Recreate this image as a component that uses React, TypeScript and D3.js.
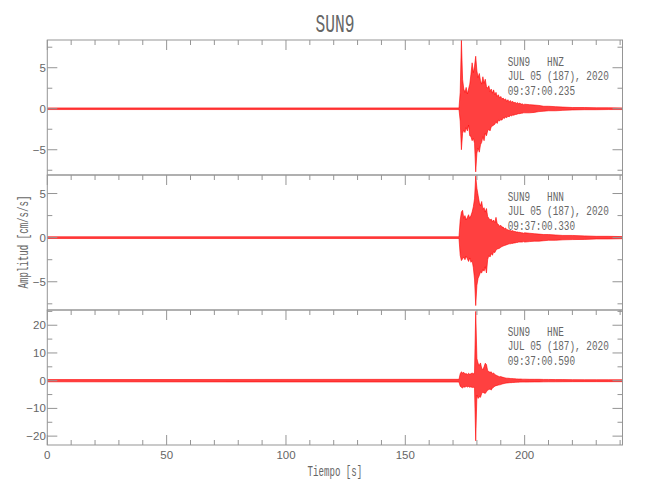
import React from "react";
import * as d3 from "d3";

// ---- data ----
const title = "SUN9";
const station = "SUN9";
const channels = ["HNZ", "HNN", "HNE"];
const dateLabel = "JUL 05 (187), 2020";
const startTimes = ["09:37:00.235", "09:37:00.330", "09:37:00.590"];
const xLabel = "Tiempo [s]";
const yLabel = "Amplitud [cm/s/s]";
const xMajorTicks = [0, 50, 100, 150, 200];
const xMinorStep = 10;
const timeMax = 241;

// envelope sample times (s)
const times = [0, 172.5, 173, 173.5, 174, 174.5, 175, 175.5, 176, 176.5, 177, 177.5, 178, 178.5, 179, 179.5, 180, 180.5, 181, 181.5, 182, 182.5, 183, 183.5, 184, 184.5, 185, 185.5, 186, 186.5, 187, 187.5, 188, 188.5, 189, 189.5, 190, 190.5, 191, 191.5, 192, 192.5, 193, 193.5, 194, 194.5, 195, 195.5, 196, 196.5, 197, 197.5, 198, 198.5, 199, 199.5, 200, 202, 204, 206, 208, 210, 213, 216, 220, 225, 230, 235, 241];

// HNZ envelope (cm/s/s)
const hnzUpper = [0.1, 0.1, 2.0, 8.4, 3.6, 2.4, 2.0, 2.6, 1.8, 2.4, 3.0, 4.2, 5.6, 4.4, 5.2, 6.4, 4.6, 3.8, 4.3, 3.4, 3.0, 3.9, 3.1, 3.6, 2.7, 2.5, 2.8, 2.1, 2.4, 1.9, 2.3, 1.7, 2.0, 1.5, 1.7, 1.3, 1.5, 1.2, 1.3, 1.1, 1.2, 0.9, 1.1, 0.8, 1.0, 0.8, 0.9, 0.7, 0.8, 0.65, 0.75, 0.6, 0.7, 0.55, 0.6, 0.5, 0.55, 0.5, 0.45, 0.4, 0.3, 0.3, 0.25, 0.2, 0.15, 0.15, 0.12, 0.12, 0.1];
const hnzLower = [-0.1, -0.1, -1.5, -5.0, -3.0, -2.6, -2.9, -2.3, -2.7, -2.0, -3.3, -3.4, -3.9, -3.6, -4.2, -7.7, -5.4, -4.8, -5.3, -4.4, -4.1, -3.4, -3.9, -3.0, -3.3, -2.7, -2.5, -2.7, -2.2, -2.1, -2.0, -1.9, -1.6, -1.8, -1.4, -1.5, -1.3, -1.4, -1.1, -1.2, -1.0, -1.1, -0.9, -1.0, -0.8, -0.9, -0.75, -0.8, -0.7, -0.7, -0.65, -0.6, -0.6, -0.55, -0.55, -0.5, -0.5, -0.5, -0.45, -0.35, -0.3, -0.25, -0.25, -0.2, -0.15, -0.12, -0.12, -0.1, -0.1];

// HNN envelope
const hnnUpper = [0.1, 0.1, 2.0, 2.9, 3.1, 2.2, 2.5, 2.0, 2.3, 2.6, 2.2, 2.5, 2.9, 3.5, 4.4, 7.0, 5.6, 4.8, 4.0, 3.6, 4.1, 3.2, 3.4, 2.9, 3.3, 2.4, 2.2, 2.0, 2.1, 1.8, 2.0, 1.7, 2.3, 1.6, 1.5, 1.3, 1.4, 1.2, 1.2, 1.0, 1.1, 0.9, 0.9, 0.8, 0.85, 0.75, 0.8, 0.7, 0.7, 0.65, 0.65, 0.6, 0.6, 0.55, 0.55, 0.5, 0.55, 0.5, 0.45, 0.4, 0.35, 0.35, 0.3, 0.25, 0.25, 0.2, 0.15, 0.15, 0.12];
const hnnLower = [-0.1, -0.1, -2.0, -2.6, -2.4, -2.2, -2.5, -2.1, -2.4, -2.7, -2.3, -2.8, -2.6, -3.4, -4.7, -7.7, -5.4, -4.6, -4.3, -3.9, -4.0, -3.6, -3.8, -3.3, -4.0, -2.5, -2.0, -2.2, -1.8, -2.0, -1.6, -1.7, -1.4, -1.3, -1.25, -1.2, -1.1, -1.0, -0.95, -0.9, -0.85, -0.8, -0.75, -0.7, -0.7, -0.65, -0.65, -0.6, -0.6, -0.55, -0.55, -0.5, -0.5, -0.5, -0.5, -0.45, -0.5, -0.45, -0.4, -0.4, -0.35, -0.3, -0.3, -0.25, -0.22, -0.2, -0.15, -0.15, -0.12];

// HNE envelope
const hneUpper = [0.4, 0.5, 2.5, 3.2, 2.8, 3.0, 2.4, 2.6, 2.2, 2.7, 2.3, 2.5, 2.8, 2.4, 3.0, 25.0, 8.0, 6.3, 5.5, 6.4, 4.5, 4.0, 5.0, 6.3, 5.8, 3.6, 3.3, 3.0, 3.2, 2.5, 2.8, 2.2, 2.0, 1.8, 1.6, 1.4, 1.5, 1.3, 1.2, 1.1, 1.0, 0.9, 0.9, 0.85, 0.8, 0.8, 0.75, 0.7, 0.7, 0.65, 0.65, 0.6, 0.6, 0.6, 0.55, 0.55, 0.55, 0.5, 0.5, 0.5, 0.45, 0.45, 0.4, 0.4, 0.38, 0.35, 0.35, 0.35, 0.35];
const hneLower = [-0.4, -0.5, -2.0, -2.4, -2.6, -2.2, -2.4, -2.0, -2.3, -2.1, -2.4, -2.2, -2.5, -2.3, -2.8, -21.7, -5.2, -6.4, -5.8, -6.0, -4.6, -4.2, -4.4, -4.6, -4.0, -3.4, -3.2, -3.0, -3.4, -2.6, -2.4, -2.0, -1.8, -1.7, -1.6, -1.5, -1.4, -1.2, -1.1, -1.0, -0.9, -0.85, -0.8, -0.75, -0.7, -0.7, -0.65, -0.65, -0.6, -0.6, -0.55, -0.55, -0.5, -0.5, -0.5, -0.5, -0.5, -0.48, -0.45, -0.45, -0.42, -0.4, -0.4, -0.38, -0.36, -0.35, -0.35, -0.35, -0.35];

// y axis ranges and ticks per panel
const yDomains: [number, number][] = [[-8.08, 8.38], [-8.2, 7.1], [-23.2, 25.5]];
const yMajorTicks = [[-5, 0, 5], [-5, 0, 5], [-20, -10, 0, 10, 20]];
const yMinorSteps = [2.5, 2.5, 5];

// ---- layout ----
const W = 650, H = 500;
const LEFT = 47.3, RIGHT = 622.5;
const PANEL_TOPS = [40, 175, 310];
const PANEL_H = 135;
const AXIS = "#959595";
const TEXT = "#666";
const FONT = "'Liberation Sans', Arial, sans-serif";
const MONO = "'Liberation Mono', 'DejaVu Sans Mono', monospace";

const x = d3.scaleLinear().domain([0, timeMax]).range([LEFT, RIGHT]);
const xMinor = d3.range(0, timeMax, xMinorStep).filter((v) => !xMajorTicks.includes(v));

const uppers = [hnzUpper, hnnUpper, hneUpper];
const lowers = [hnzLower, hnnLower, hneLower];

function NText({ x: tx, y: ty, size, sx = 0.65, anchor = "start", rotate = 0, children }: { x: number; y: number; size: number; sx?: number; anchor?: string; rotate?: number; children: React.ReactNode }) {
  return (
    <g transform={`translate(${tx},${ty}) rotate(${rotate}) scale(${sx},1)`}>
      <text x={0} y={0} textAnchor={anchor} fontFamily={MONO} fontSize={size} fill={TEXT} style={{ whiteSpace: "pre" }}>
        {children}
      </text>
    </g>
  );
}

function Panel({ idx }: { idx: number }) {
  const top = PANEL_TOPS[idx];
  const bottom = top + PANEL_H;
  const y = d3.scaleLinear().domain(yDomains[idx]).range([bottom, top]);
  const up = uppers[idx];
  const lo = lowers[idx];
  const area = d3
    .area<number>()
    .x((d) => x(d))
    .y0((_, i) => y(lo[i]))
    .y1((_, i) => y(up[i]));
  const edge = (vals: number[]) =>
    d3
      .line<number>()
      .x((d) => x(d))
      .y((_, i) => y(vals[i]))(times) || "";
  const [d0, d1] = yDomains[idx];
  const step = yMinorSteps[idx];
  const ymin = d3
    .range(Math.ceil(d0 / step) * step, d1 + 1e-9, step)
    .filter((v) => !yMajorTicks[idx].some((m) => Math.abs(m - v) < 1e-9));
  const isLast = idx === 2;
  const clipId = `clip${idx}`;
  return (
    <g>
      <defs>
        <clipPath id={clipId}>
          <rect x={LEFT} y={top} width={RIGHT - LEFT} height={PANEL_H} />
        </clipPath>
      </defs>
      <g clipPath={`url(#${clipId})`}>
        <path d={area(times) || ""} fill="#ff1010" fillOpacity={0.8} stroke="none" />
        <path d={edge(up)} fill="none" stroke="#ff0000" strokeWidth={0.6} />
        <path d={edge(lo)} fill="none" stroke="#ff0000" strokeWidth={0.6} />
      </g>
      {/* frame */}
      <rect x={LEFT} y={top} width={RIGHT - LEFT} height={PANEL_H} fill="none" stroke={AXIS} strokeWidth={1} />
      {/* top x ticks (downward) */}
      {xMajorTicks.map((t) => (
        <line key={`tM${t}`} x1={x(t)} x2={x(t)} y1={top} y2={top + 10} stroke={AXIS} />
      ))}
      {xMinor.map((t) => (
        <line key={`tm${t}`} x1={x(t)} x2={x(t)} y1={top} y2={top + 5} stroke={AXIS} />
      ))}
      {isLast &&
        xMajorTicks.map((t) => (
          <line key={`bM${t}`} x1={x(t)} x2={x(t)} y1={bottom} y2={bottom - 10} stroke={AXIS} />
        ))}
      {isLast &&
        xMinor.map((t) => (
          <line key={`bm${t}`} x1={x(t)} x2={x(t)} y1={bottom} y2={bottom - 5} stroke={AXIS} />
        ))}
      {isLast &&
        xMajorTicks.map((t) => (
          <text key={`xl${t}`} x={x(t)} y={bottom + 14} textAnchor="middle" fontSize={11.5} fontFamily={FONT} fill={TEXT}>
            {t}
          </text>
        ))}
      {/* y ticks */}
      {yMajorTicks[idx].map((v) => (
        <g key={`yM${v}`}>
          <line x1={LEFT} x2={LEFT + 10} y1={y(v)} y2={y(v)} stroke={AXIS} />
          <line x1={RIGHT} x2={RIGHT - 10} y1={y(v)} y2={y(v)} stroke={AXIS} />
          <text x={LEFT - 1.5} y={y(v) + 4} textAnchor="end" fontSize={11.5} fontFamily={FONT} fill={TEXT}>
            {v < 0 ? `\u2212${Math.abs(v)}` : `${v}`}
          </text>
        </g>
      ))}
      {ymin.map((v) => (
        <g key={`ym${v}`}>
          <line x1={LEFT} x2={LEFT + 5} y1={y(v)} y2={y(v)} stroke={AXIS} />
          <line x1={RIGHT} x2={RIGHT - 5} y1={y(v)} y2={y(v)} stroke={AXIS} />
        </g>
      ))}
      {/* annotation */}
      <NText x={507.7} y={top + 25.5} size={12.5} sx={0.75}>{`${station}   ${channels[idx]}`}</NText>
      <NText x={507.7} y={top + 40.2} size={12.5} sx={0.75}>{dateLabel}</NText>
      <NText x={507.7} y={top + 54.9} size={12.5} sx={0.75}>{startTimes[idx]}</NText>
    </g>
  );
}

export default function App() {
  return (
    <svg width={W} height={H} style={{ position: "absolute", left: 0, top: 0, background: "#fff" }}>
      <rect x={0} y={0} width={W} height={H} fill="#fff" />
      <NText x={(LEFT + RIGHT) / 2} y={31.7} size={25} anchor="middle">{title}</NText>
      {[0, 1, 2].map((i) => (
        <Panel key={i} idx={i} />
      ))}
      <NText x={(LEFT + RIGHT) / 2} y={476} size={14} anchor="middle">{xLabel}</NText>
      <NText x={28} y={242} size={14} anchor="middle" rotate={-90}>{yLabel}</NText>
    </svg>
  );
}
